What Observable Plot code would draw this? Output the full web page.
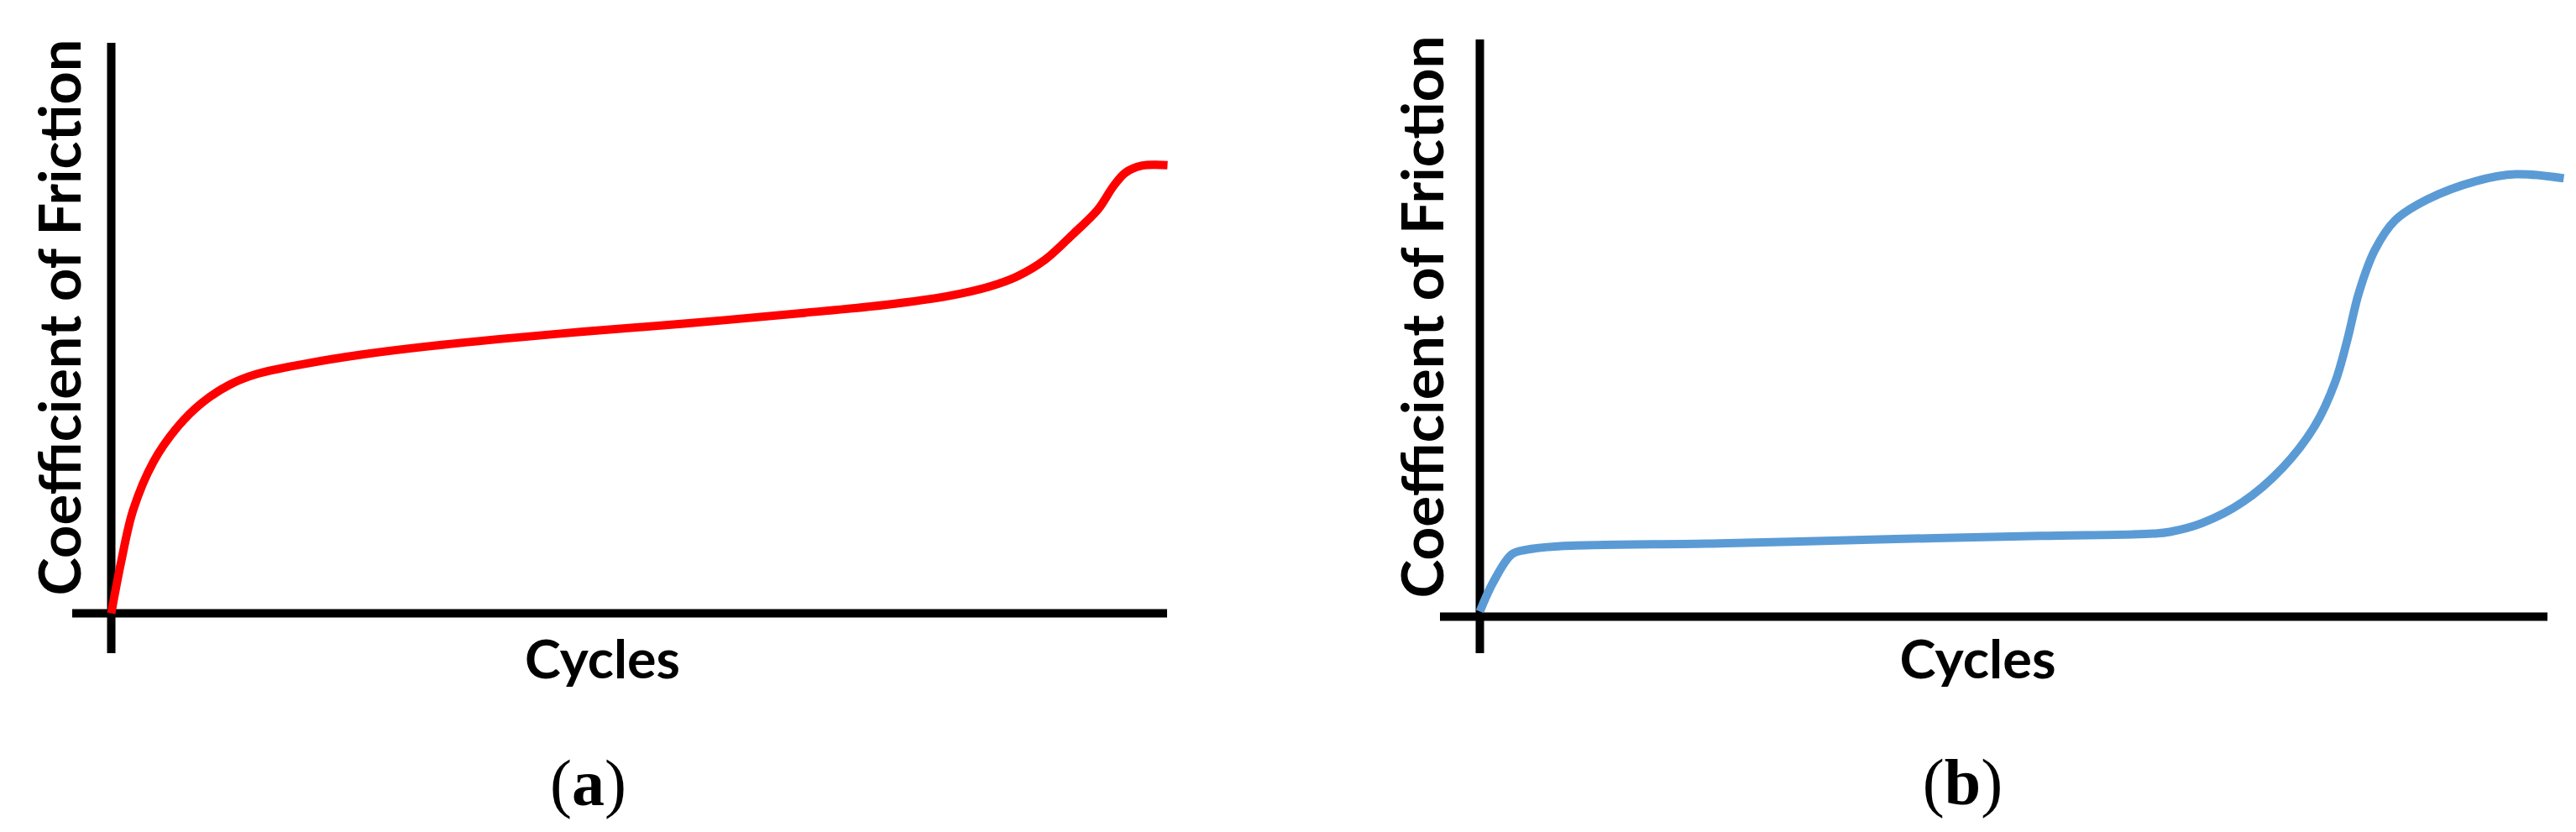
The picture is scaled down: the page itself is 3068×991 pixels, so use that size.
<!DOCTYPE html>
<html>
<head>
<meta charset="utf-8">
<script src="https://cdn.jsdelivr.net/npm/d3@7"></script>
<script src="https://cdn.jsdelivr.net/npm/@observablehq/plot@0.6"></script>
<style>
  body { margin: 0; background: #fff; }
  #wrap { display: flex; width: 3068px; height: 991px; }
  .panel { width: 1534px; height: 991px; flex: none; }
</style>
</head>
<body>
<div id="wrap"><div class="panel" id="pa"></div><div class="panel" id="pb"></div></div>
<script>
// Panel (a): cycles (% of test length) and normalized coefficient of friction
const cyclesA = [0, 0.91, 2.07, 3.97, 6.24, 8.51, 11.21, 13.83, 18.44, 23.77, 31.32, 42.77, 54.21, 65.58, 73.21, 79.33, 83.11, 85.77, 88.39, 91.10, 93.40, 94.91, 96.03, 97.54, 100];
const cofA    = [0, 0.088, 0.181, 0.265, 0.326, 0.368, 0.401, 0.420, 0.438, 0.454, 0.471, 0.491, 0.508, 0.527, 0.541, 0.557, 0.573, 0.591, 0.620, 0.666, 0.708, 0.750, 0.773, 0.785, 0.786];

// Panel (b)
const cyclesB = [0, 1.26, 2.99, 4.32, 7.31, 22.41, 37.42, 52.52, 63.05, 64.62, 67.61, 71.38, 75.16, 78.22, 80.07, 81.21, 82.31, 83.81, 85.69, 88.68, 93.24, 97.01, 101.49];
const cofB    = [0.009, 0.060, 0.108, 0.116, 0.122, 0.127, 0.134, 0.140, 0.144, 0.147, 0.162, 0.198, 0.258, 0.332, 0.406, 0.479, 0.562, 0.636, 0.687, 0.723, 0.755, 0.767, 0.760];

const yLabel = "Coefficient of Friction";
const xLabel = "Cycles";
const captionLetters = ["a", "b"];
const colors = ["#FF0000", "#5B9BD5"];

function makePanel(cycles, cof, cfg) {
  const data = cycles.map((c, i) => ({c, f: cof[i]}));
  const svg = Plot.plot({
    width: 1534,
    height: 991,
    marginLeft: cfg.ml, marginRight: cfg.mr, marginTop: cfg.mt, marginBottom: cfg.mb,
    x: {domain: [0, 100], axis: null},
    y: {domain: [0, 1], axis: null},
    marks: [
      Plot.ruleY([0], {stroke: "black", strokeWidth: 10, insetLeft: -cfg.ox}),
      Plot.ruleX([0], {stroke: "black", strokeWidth: 10, insetBottom: -cfg.oy}),
      Plot.line(data, {x: "c", y: "f", stroke: cfg.color, strokeWidth: 10, curve: "catmull-rom", strokeLinecap: "butt", strokeLinejoin: "round"}),
      Plot.text([yLabel], {text: d => d, frameAnchor: "left", rotate: -90, lineAnchor: "bottom", textAnchor: "middle",
        dx: cfg.ylDx, dy: cfg.ylDy, fontFamily: "Lato", fontWeight: "bold", fontSize: 68, fill: "black"}),
      Plot.text([xLabel], {text: d => d, frameAnchor: "bottom", lineAnchor: "bottom", textAnchor: "middle",
        dx: cfg.xlDx, dy: cfg.xlDy, fontFamily: "Lato", fontWeight: "bold", fontSize: 64, fill: "black"}),
      Plot.text([cfg.cap], {text: d => "(" + d + ")", frameAnchor: "bottom", lineAnchor: "bottom", textAnchor: "middle",
        dx: cfg.capDx, dy: cfg.capDy, fontFamily: "Liberation Serif", fontWeight: "normal", fontSize: 78, fill: "black"})
    ]
  });
  d3.select(svg).selectAll("text").each(function() {
    const t = this.textContent;
    const s = d3.select(this);
    if (t === yLabel) {
      s.attr("textLength", cfg.ylLen).attr("lengthAdjust", "spacingAndGlyphs");
    } else if (t === xLabel) {
      s.attr("textLength", cfg.xlLen).attr("lengthAdjust", "spacingAndGlyphs");
    } else if (t === "(" + cfg.cap + ")") {
      s.text(null);
      s.append("tspan").text("(");
      s.append("tspan").attr("font-weight", "bold").text(cfg.cap);
      s.append("tspan").text(")");
    }
  });
  return svg;
}

document.getElementById("pa").appendChild(makePanel(cyclesA, cofA, {
  color: colors[0], cap: captionLetters[0],
  ml: 132, mr: 144, mt: 51, mb: 261, ox: 46, oy: 48,
  ylDx: -37, ylDy: -13, ylLen: 663,
  xlDx: -44, xlDy: 77, xlLen: 185,
  capDx: -61, capDy: 228
}));
document.getElementById("pb").appendChild(makePanel(cyclesB, cofB, {
  color: colors[1], cap: captionLetters[1],
  ml: 228, mr: 34, mt: 47, mb: 257, ox: 47, oy: 44,
  ylDx: -44, ylDy: -13.5, ylLen: 670,
  xlDx: -43, xlDy: 73, xlLen: 186,
  capDx: -61, capDy: 223
}));
</script>
</body>
</html>
